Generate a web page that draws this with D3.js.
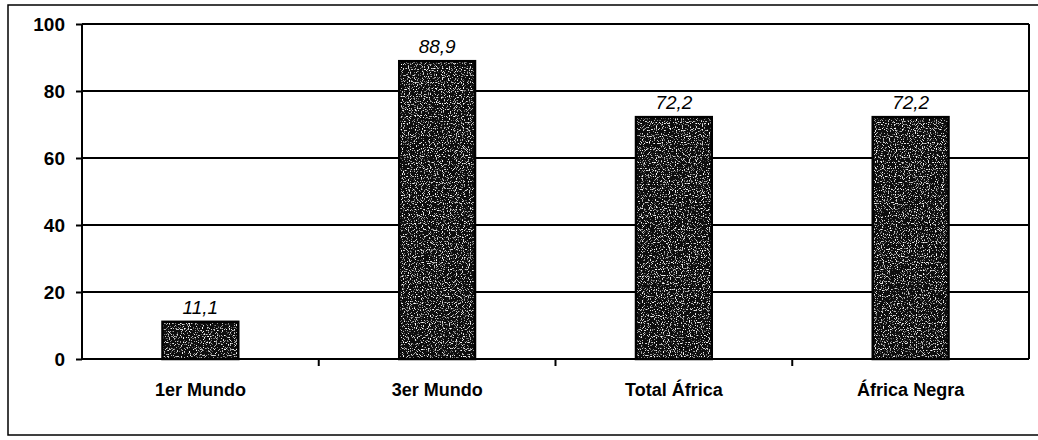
<!DOCTYPE html>
<html>
<head>
<meta charset="utf-8">
<script src="https://cdn.jsdelivr.net/npm/d3@7"></script>
<style>
  body { margin: 0; background: #fff; }
  text { font-family: "Liberation Sans", Arial, sans-serif; }
</style>
</head>
<body>
<svg id="chart" width="1038" height="440"></svg>
<script>
var categories = ["1er Mundo", "3er Mundo", "Total África", "África Negra"];
var values = [11.1, 88.9, 72.2, 72.2];
var valueLabels = ["11,1", "88,9", "72,2", "72,2"];
var yTicks = [0, 20, 40, 60, 80, 100];

var svg = d3.select("#chart"),
    plotLeft = 82, plotRight = 1029, plotTop = 24, plotBottom = 359;

var x = d3.scaleBand().domain(categories).range([plotLeft, plotRight]).paddingInner(0.68).paddingOuter(0.34);
var y = d3.scaleLinear().domain([0, 100]).range([plotBottom, plotTop]);

// outer frame
svg.append("rect")
    .attr("x", 8).attr("y", 5)
    .attr("width", 1040).attr("height", 430)
    .attr("fill", "none").attr("stroke", "#000").attr("stroke-width", 1.5);

// gridlines
svg.append("g").selectAll("line")
    .data(yTicks.filter(function(d) { return d > 0; }))
  .enter().append("line")
    .attr("x1", plotLeft).attr("x2", plotRight)
    .attr("y1", function(d) { return y(d); })
    .attr("y2", function(d) { return y(d); })
    .attr("stroke", "#000").attr("stroke-width", 2);

// right border of plot
svg.append("line")
    .attr("x1", plotRight).attr("x2", plotRight)
    .attr("y1", plotTop).attr("y2", plotBottom)
    .attr("stroke", "#000").attr("stroke-width", 2);

// speckled texture for bars
var defs = svg.append("defs");
var filter = defs.append("filter").attr("id", "grain");
filter.append("feTurbulence")
    .attr("type", "fractalNoise").attr("baseFrequency", 0.85)
    .attr("numOctaves", 1).attr("seed", 3).attr("result", "noise");
filter.append("feColorMatrix")
    .attr("in", "noise").attr("type", "matrix")
    .attr("values", "0 0 0 0 1  0 0 0 0 1  0 0 0 0 1  0 0 0 -6 2.6")
    .attr("result", "dots");
filter.append("feComposite")
    .attr("in", "dots").attr("in2", "SourceGraphic").attr("operator", "in")
    .attr("result", "clipped");
var merge = filter.append("feMerge");
merge.append("feMergeNode").attr("in", "SourceGraphic");
merge.append("feMergeNode").attr("in", "clipped");

svg.append("g").selectAll("rect")
    .data(values)
  .enter().append("rect")
    .attr("x", function(d, i) { return x(categories[i]); })
    .attr("y", function(d) { return y(d); })
    .attr("width", x.bandwidth())
    .attr("height", function(d) { return y(0) - y(d); })
    .attr("fill", "#111")
    .attr("filter", "url(#grain)");

svg.append("g").selectAll("rect")
    .data(values)
  .enter().append("rect")
    .attr("x", function(d, i) { return x(categories[i]); })
    .attr("y", function(d) { return y(d); })
    .attr("width", x.bandwidth())
    .attr("height", function(d) { return y(0) - y(d); })
    .attr("fill", "none").attr("stroke", "#000").attr("stroke-width", 2.5);

// value labels
svg.append("g").selectAll("text")
    .data(values)
  .enter().append("text")
    .attr("x", function(d, i) { return x(categories[i]) + x.bandwidth() / 2; })
    .attr("y", function(d) { return y(d) - 8; })
    .attr("text-anchor", "middle")
    .attr("font-size", 19).attr("font-style", "italic")
    .text(function(d, i) { return valueLabels[i]; });

// y axis
var yAxis = svg.append("g")
    .attr("transform", "translate(" + plotLeft + ",0)")
    .call(d3.axisLeft(y).tickValues(yTicks).tickSize(6).tickPadding(11));
yAxis.select(".domain").attr("stroke-width", 2).attr("d", "M0," + plotTop + "V" + plotBottom);
yAxis.selectAll(".tick line").attr("stroke-width", 2);
yAxis.selectAll(".tick text")
    .attr("font-size", 19).attr("font-weight", "bold")
    .attr("font-family", "'Liberation Sans', Arial, sans-serif").attr("fill", "#000");

// x axis
var xAxis = svg.append("g")
    .attr("transform", "translate(0," + plotBottom + ")")
    .call(d3.axisBottom(x).tickSize(0).tickPadding(24));
xAxis.select(".domain").attr("stroke-width", 2).attr("d", "M" + plotLeft + ",0H" + plotRight);
xAxis.selectAll(".tick text")
    .attr("font-size", 18).attr("font-weight", "bold")
    .attr("font-family", "'Liberation Sans', Arial, sans-serif").attr("fill", "#000");

// separators between categories
var step = x.step();
svg.append("g").selectAll("line")
    .data(categories.slice(1))
  .enter().append("line")
    .attr("x1", function(d) { return x(d) - x.paddingOuter() * step; })
    .attr("x2", function(d) { return x(d) - x.paddingOuter() * step; })
    .attr("y1", plotBottom).attr("y2", plotBottom + 7)
    .attr("stroke", "#000").attr("stroke-width", 2);
</script>
</body>
</html>
